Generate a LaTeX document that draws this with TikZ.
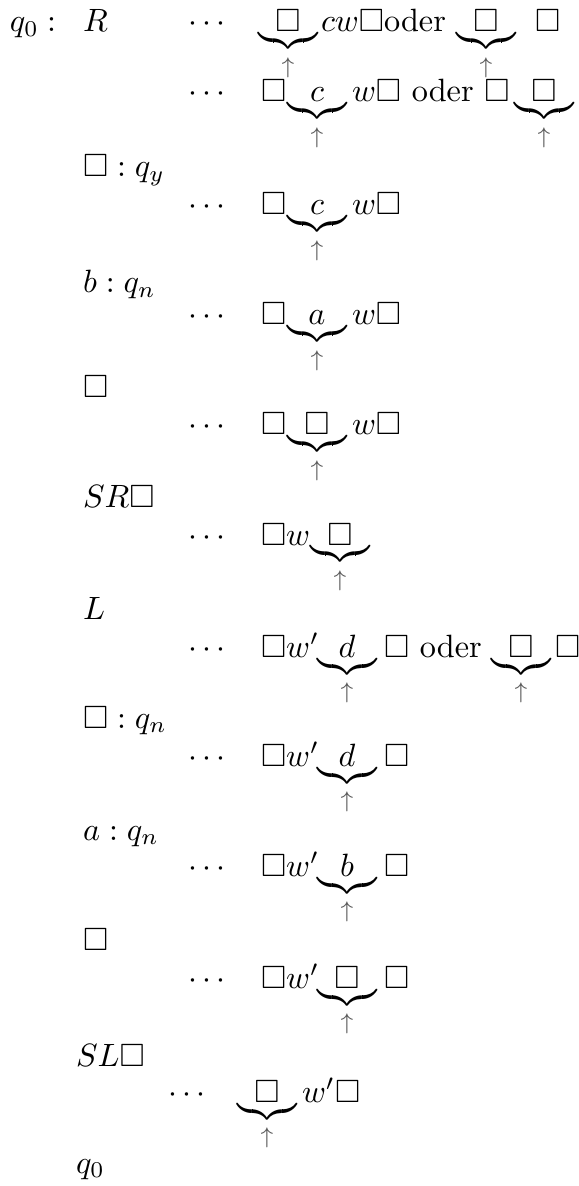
\documentclass[tikz,border=0pt]{standalone}
\usepackage{amssymb}
\usepackage{graphicx}
\tikzset{
  txt/.style={anchor=base west, inner sep=0pt, outer sep=0pt},
  ctr/.style={anchor=base, inner sep=0pt, outer sep=0pt},
  brc/.style={anchor=base, inner sep=0pt, outer sep=0pt},
  arr/.style={anchor=north, inner sep=0pt, outer sep=0pt, text=black!65},
}
\newcommand{\mybrace}{\scalebox{1}[0.95]{\hbox to 18.5pt{\upbracefill}}}
\newcommand{\tdots}{$\mathord{\cdotp}\kern1.7pt\mathord{\cdotp}\kern1.7pt\mathord{\cdotp}$}
\newcommand{\hd}[4]{%
  \node[ctr] (#1) at (#2,#3) {#4};
  \node[brc] (#1b) at (#2,{#3+11}) {\mybrace};
  \node[arr] (#1a) at (#2,{#3+26}) {$\scriptstyle\uparrow$};
}
\begin{document}
\begin{tikzpicture}[x=0.31pt,y=-0.31pt]
\useasboundingbox (0,0) rectangle (578,1186);
% row 1
\node[txt] (q0) at (10,32) {$q_0$};
\node[txt] (col) at (47,32) {$:$};
\node[txt] (R) at (83,32) {$R$};
\node[txt] (d1) at (188,32) {\tdots};
\hd{h1a}{288}{32}{$\square$}
\node[txt] (t1a) at (321,32) {$cw\square$oder};
\hd{h1b}{486}{32}{$\square$}
\node[txt] (t1b) at (535,32) {$\square$};
% row 2
\node[txt] (d2) at (188,102) {\tdots};
\node[txt] (t2a) at (261,102) {$\square$};
\hd{h2a}{317}{102}{$c$}
\node[txt] (t2b) at (352,102) {$w\square$ oder $\square$};
\hd{h2b}{544}{102}{$\square$}
% label
\node[txt] (l3) at (83,177) {$\square : q_y$};
% row 3
\node[txt] (d3) at (188,215) {\tdots};
\node[txt] (t3a) at (261,215) {$\square$};
\hd{h3}{317}{215}{$c$}
\node[txt] (t3b) at (352,215) {$w\square$};
% label
\node[txt] (l4) at (83,293) {$b : q_n$};
% row 4
\node[txt] (d4) at (188,325) {\tdots};
\node[txt] (t4a) at (261,325) {$\square$};
\hd{h4}{317}{325}{$a$}
\node[txt] (t4b) at (352,325) {$w\square$};
% label
\node[txt] (l5) at (83,398) {$\square$};
% row 5
\node[txt] (d5) at (188,435) {\tdots};
\node[txt] (t5a) at (261,435) {$\square$};
\hd{h5}{317}{435}{$\square$}
\node[txt] (t5b) at (352,435) {$w\square$};
% label
\node[txt] (l6) at (83,508) {$SR\square$};
% row 6
\node[txt] (d6) at (188,545) {\tdots};
\node[txt] (t6a) at (261,545) {$\square w$};
\hd{h6}{340}{545}{$\square$}
% label
\node[txt] (l7) at (83,619) {$L$};
% row 7
\node[txt] (d7) at (188,657) {\tdots};
\node[txt] (t7a) at (261,657) {$\square w'$};
\hd{h7a}{347}{657}{$d$}
\node[txt] (t7b) at (384,657) {$\square$ oder};
\hd{h7b}{521}{657}{$\square$}
\node[txt] (t7c) at (555,657) {$\square$};
% label
\node[txt] (l8) at (83,728) {$\square : q_n$};
% row 8
\node[txt] (d8) at (188,766) {\tdots};
\node[txt] (t8a) at (261,766) {$\square w'$};
\hd{h8}{347}{766}{$d$}
\node[txt] (t8b) at (384,766) {$\square$};
% label
\node[txt] (l9) at (83,840) {$a : q_n$};
% row 9
\node[txt] (d9) at (188,876) {\tdots};
\node[txt] (t9a) at (261,876) {$\square w'$};
\hd{h9}{347}{876}{$b$}
\node[txt] (t9b) at (384,876) {$\square$};
% label
\node[txt] (l10) at (83,950) {$\square$};
% row 10
\node[txt] (d10) at (188,988) {\tdots};
\node[txt] (t10a) at (261,988) {$\square w'$};
\hd{h10}{347}{988}{$\square$}
\node[txt] (t10b) at (384,988) {$\square$};
% label
\node[txt] (l11) at (76,1066) {$SL\square$};
% row 11
\node[txt] (d11) at (168,1102) {\tdots};
\hd{h11}{267}{1102}{$\square$}
\node[txt] (t11b) at (302,1102) {$w'\square$};
% final label
\node[txt] (l12) at (76,1173) {$q_0$};
\end{tikzpicture}
\end{document}
